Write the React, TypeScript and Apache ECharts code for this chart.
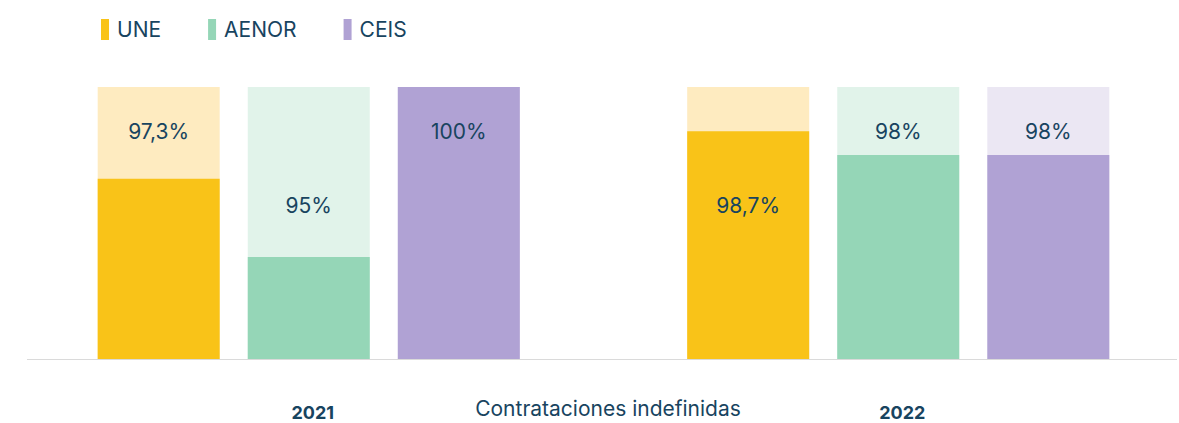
import React, { useEffect, useRef } from 'react';
import * as echarts from 'echarts';

const years = ['2021', '2022'];
const axisTitle = 'Contrataciones indefinidas';
const seriesNames = ['UNE', 'AENOR', 'CEIS'];
const uneValues = [97.3, 98.7];
const aenorValues = [95, 98];
const ceisValues = [100, 98];
const yMin = 92;
const yMax = 100;

// style: which text row each label sits on
const labelRows: Record<string, string[]> = {
  UNE: ['upper', 'lower'],
  AENOR: ['lower', 'upper'],
  CEIS: ['upper', 'upper'],
};
const solidColors = ['#F9C318', '#95D6B7', '#B0A2D4'];
const lightColors = ['#FEEBC0', '#E1F3EA', '#EBE7F3'];
const textColor = '#18445F';
const font = 'Inter, Roboto, "Noto Sans", sans-serif';

const plotTop = 87;
const plotBottom = 359;
const rowY: Record<string, number> = { upper: 131, lower: 205 };

const fmt = (v: number) => String(v).replace('.', ',') + '%';
const barTop = (v: number) => plotBottom - ((v - yMin) / (yMax - yMin)) * (plotBottom - plotTop);

export default function App() {
  const ref = useRef<HTMLDivElement>(null);
  useEffect(() => {
    if (!ref.current) return;
    const chart = echarts.init(ref.current, null, { renderer: 'svg' });
    const allValues = [uneValues, aenorValues, ceisValues];
    chart.setOption({
      animation: false,
      legend: {
        left: 96,
        top: 14,
        itemWidth: 8,
        itemHeight: 21,
        itemGap: 47,
        icon: 'rect',
        textStyle: { color: textColor, fontSize: 21, fontFamily: font, padding: [0, 0, 0, 3] },
        data: seriesNames,
      },
      grid: {
        left: 14,
        right: -14,
        top: plotTop,
        bottom: 423 - plotBottom,
        containLabel: false,
        outerBoundsMode: 'none',
      },
      xAxis: {
        type: 'category',
        data: years,
        axisLine: { show: false },
        axisTick: { show: false },
        axisLabel: {
          margin: 44,
          fontSize: 18,
          fontWeight: 'bold',
          color: textColor,
          fontFamily: font,
          padding: [0, 0, 0, 8],
        },
        name: axisTitle,
        nameLocation: 'middle',
        nameGap: 39,
        nameMoveOverlap: false,
        nameTextStyle: { fontSize: 21, color: textColor, fontFamily: font, padding: [0, 0, 0, 9] },
      },
      yAxis: {
        type: 'value',
        min: yMin,
        max: yMax,
        show: false,
      },
      graphic: [
        {
          type: 'line',
          z: -1,
          shape: { x1: 27, y1: 359.5, x2: 1177, y2: 359.5 },
          style: { stroke: '#DADADA', lineWidth: 1 },
        },
      ],
      series: seriesNames.map((name, si) => ({
        name,
        type: 'bar',
        barWidth: 122,
        barGap: '23%',
        showBackground: true,
        backgroundStyle: { color: lightColors[si] },
        itemStyle: { color: solidColors[si] },
        label: {
          show: true,
          formatter: (p: any) => fmt(p.value),
          color: textColor,
          fontSize: 21,
          fontFamily: font,
          align: 'center',
          verticalAlign: 'middle',
        },
        data: allValues[si].map((v, i) => ({
          value: v,
          label: { position: ['50%', rowY[labelRows[name][i]] - barTop(v)] },
        })),
      })),
    });
    return () => chart.dispose();
  }, []);
  return (
    <div
      ref={ref}
      style={{ position: 'fixed', left: 0, top: 0, width: 1179, height: 423, background: '#fff' }}
    />
  );
}
